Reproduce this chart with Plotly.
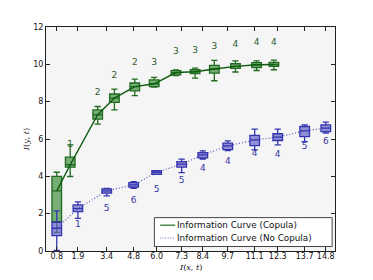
import plotly.graph_objects as go

# ---- data ----
cop_x = [0.8, 1.5, 2.93, 3.8, 4.86, 5.87, 7.0, 8.0, 9.0, 10.1, 11.2, 12.1]
cop_lo = [1.0, 3.99, 6.8, 7.56, 8.32, 8.78, 9.39, 9.26, 9.12, 9.59, 9.67, 9.71]
cop_q1 = [1.57, 4.49, 7.07, 7.96, 8.58, 8.81, 9.44, 9.5, 9.53, 9.78, 9.83, 9.89]
cop_med = [3.22, 4.62, 7.3, 8.19, 8.81, 8.96, 9.56, 9.6, 9.75, 9.89, 9.98, 9.99]
cop_q3 = [4.0, 5.03, 7.56, 8.41, 9.0, 9.17, 9.66, 9.71, 9.94, 10.03, 10.09, 10.1]
cop_hi = [4.22, 5.69, 7.74, 8.67, 9.21, 9.3, 9.7, 9.8, 10.21, 10.19, 10.19, 10.23]
cop_lab_x = [1.5, 2.93, 3.8, 4.86, 5.87, 7.0, 8.0, 9.0, 10.1, 11.2, 12.1]
cop_lab = ["1", "2", "2", "2", "3", "3", "3", "3", "4", "4", "4"]
cop_lab_y = [5.7, 8.5, 9.39, 10.1, 10.07, 10.66, 10.73, 10.96, 11.05, 11.14, 11.17]

nc_x = [0.8, 1.9, 3.4, 4.8, 6.0, 7.3, 8.4, 9.7, 11.1, 12.3, 13.7, 14.8]
nc_lo = [0.03, 1.75, 2.95, 3.36, 4.11, 4.2, 4.92, 5.38, 5.42, 5.69, 5.86, 6.31]
nc_q1 = [0.82, 2.11, 3.1, 3.42, 4.11, 4.49, 4.99, 5.43, 5.65, 5.92, 6.13, 6.4]
nc_med = [1.22, 2.27, 3.22, 3.54, 4.22, 4.65, 5.15, 5.63, 5.95, 6.1, 6.44, 6.58]
nc_q3 = [1.54, 2.47, 3.33, 3.66, 4.31, 4.79, 5.27, 5.78, 6.19, 6.28, 6.67, 6.76]
nc_hi = [2.15, 2.63, 3.36, 3.72, 4.31, 4.92, 5.36, 5.9, 6.53, 6.53, 6.76, 6.9]
nc_lab_x = [1.9, 3.4, 4.8, 6.0, 7.3, 8.4, 9.7, 11.1, 12.3, 13.7, 14.8]
nc_lab = ["1", "5", "6", "5", "5", "4", "4", "4", "4", "5", "6"]
nc_lab_y = [1.43, 2.29, 2.68, 3.27, 3.77, 4.38, 4.76, 5.2, 5.15, 5.6, 5.83]

x_ticks = [0.8, 1.9, 3.4, 4.8, 6.0, 7.3, 8.4, 9.7, 11.1, 12.3, 13.7, 14.8]
x_tick_text = ["0.8", "1.9", "3.4", "4.8", "6.0", "7.3", "8.4", "9.7", "11.1", "12.3", "13.7", "14.8"]
y_ticks = [0, 2, 4, 6, 8, 10, 12]
series_names = ["Information Curve (Copula)", "Information Curve (No Copula)"]

GREEN_EDGE = "#1f6b1f"
GREEN_FILL = "rgba(75,150,75,0.75)"
BLUE_EDGE = "#3535b0"
BLUE_FILL = "rgba(100,100,200,0.7)"
GREEN_LINE = "#0d5a0d"
BLUE_LINE = "#4a4ab8"

fig = go.Figure()

fig.add_trace(go.Box(
    x=cop_x, q1=cop_q1, median=cop_med, q3=cop_q3,
    lowerfence=cop_lo, upperfence=cop_hi,
    width=0.5, whiskerwidth=0.65, fillcolor=GREEN_FILL,
    line=dict(color=GREEN_EDGE, width=1.3), showlegend=False,
    boxpoints=False, hoverinfo="skip"))

fig.add_trace(go.Box(
    x=nc_x, q1=nc_q1, median=nc_med, q3=nc_q3,
    lowerfence=nc_lo, upperfence=nc_hi,
    width=0.5, whiskerwidth=0.65, fillcolor=BLUE_FILL,
    line=dict(color=BLUE_EDGE, width=1.3), showlegend=False,
    boxpoints=False, hoverinfo="skip"))

fig.add_trace(go.Scatter(
    x=cop_x, y=cop_med, mode="lines", name=series_names[0], showlegend=False,
    line=dict(color=GREEN_LINE, width=1.4)))

fig.add_trace(go.Scatter(
    x=nc_x, y=nc_med, mode="lines", name=series_names[1], showlegend=False,
    line=dict(color=BLUE_LINE, width=1.1, dash="1px,2px")))

fig.add_trace(go.Scatter(
    x=cop_lab_x, y=cop_lab_y, text=cop_lab, mode="text", showlegend=False,
    textfont=dict(color="#2a5e2a", size=9, family="DejaVu Sans")))

fig.add_trace(go.Scatter(
    x=nc_lab_x, y=nc_lab_y, text=nc_lab, mode="text", showlegend=False,
    textfont=dict(color="#3535a8", size=9, family="DejaVu Sans")))

# legend box drawn in paper coordinates
fig.add_shape(type="rect", xref="paper", yref="paper",
              x0=0.375, x1=0.99, y0=0.02, y1=0.149,
              line=dict(color="#444444", width=1), fillcolor="white", layer="above")
leg_y = [0.115, 0.058]
leg_styles = [dict(color="#4f8f4f", width=1.6), dict(color="#6a6ad0", width=1, dash="1px,1.5px")]
for name, yy, st in zip(series_names, leg_y, leg_styles):
    fig.add_shape(type="line", xref="paper", yref="paper",
                  x0=0.395, x1=0.447, y0=yy, y1=yy, line=st, layer="above")
    fig.add_annotation(xref="paper", yref="paper", x=0.45, y=yy, text=name,
                       showarrow=False, xanchor="left", yanchor="middle",
                       borderpad=0,
                       font=dict(size=8.8, family="DejaVu Sans", color="#111111"))

# x-axis title as annotation for exact placement
fig.add_annotation(xref="paper", yref="paper", x=0.5, y=-0.075,
                   text="<i>I</i>(<i>x</i>, <i>t</i>)", showarrow=False,
                   xanchor="center", yanchor="middle",
                   font=dict(family="DejaVu Serif", size=8, color="#111111"))

axis_common = dict(
    showgrid=False, zeroline=False, showline=True, linecolor="#222222",
    linewidth=1, mirror="ticks", ticks="inside", ticklen=4, tickcolor="#222222",
    tickfont=dict(size=8, family="DejaVu Sans", color="#111111"))

# page body has an 8px default margin; the figure is sized so it fills the 373x280 window
fig.update_layout(
    width=365, height=272,
    margin=dict(l=38, r=38, t=19, b=29),
    paper_bgcolor="white", plot_bgcolor="#f5f5f5",
    boxmode="overlay", showlegend=False,
    font=dict(family="DejaVu Sans", size=9, color="#111111"),
    xaxis=dict(range=[0.24, 15.28], tickvals=x_ticks, ticktext=x_tick_text,
               ticklabelstandoff=-3,
               **axis_common),
    yaxis=dict(range=[0, 12], tickvals=y_ticks,
               title=dict(text="<i>I</i>(<i>y</i>, <i>t</i>)", standoff=2,
                          font=dict(family="DejaVu Serif", size=8)),
               **axis_common),
)

fig.write_html("out.html")
